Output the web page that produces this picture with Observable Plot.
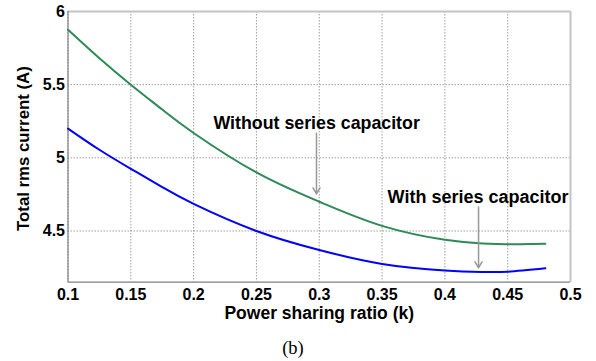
<!DOCTYPE html>
<html>
<head>
<meta charset="utf-8">
<script src="https://cdn.jsdelivr.net/npm/d3@7"></script>
<script src="https://cdn.jsdelivr.net/npm/@observablehq/plot@0.6"></script>
<style>
  body { margin: 0; background: #fff; position: relative; width: 596px; height: 361px; }
  #chart { width: 596px; }
  .cap { position: absolute; left: 0; top: 337px; width: 586px; text-align: center; font-family: "Liberation Serif", "Times New Roman", serif; font-size: 18.5px; line-height: 22px; }
  svg text { font-family: "Liberation Sans", Arial, sans-serif; }
</style>
</head>
<body>
<div id="chart"></div>
<script>
// Data
const k = [0.1, 0.125, 0.15, 0.175, 0.2, 0.25, 0.3, 0.35, 0.4, 0.43, 0.45, 0.48];
const withoutCap = [5.875, 5.68, 5.50, 5.33, 5.17, 4.90, 4.70, 4.535, 4.44, 4.415, 4.41, 4.413];
const withCap    = [5.20, 5.055, 4.925, 4.80, 4.685, 4.50, 4.37, 4.275, 4.23, 4.22, 4.222, 4.245];
const xTicks = [0.1, 0.15, 0.2, 0.25, 0.3, 0.35, 0.4, 0.45, 0.5];
const xTickLabels = ["0.1", "0.15", "0.2", "0.25", "0.3", "0.35", "0.4", "0.45", "0.5"];
const yTicks = [4.5, 5, 5.5, 6];
const yTickLabels = ["4.5", "5", "5.5", "6"];
const seriesNames = ["Without series capacitor", "With series capacitor"];
const xTitle = "Power sharing ratio (k)";
const yTitle = "Total rms current (A)";
const caption = "(b)";
// annotation anchors (data units)
const labelX = [0.2158, 0.3544];
const labelY = [5.237, 4.733];
const arrowX = [0.2978, 0.4268];
const arrowY1 = [5.168, 4.664];
const arrowY2 = [4.753, 4.248];
// y-title anchor (data units, left of the frame)
const yTitleX = 0.0645;
const yTitleY = 5.063;

const rows = [];
k.forEach((x, i) => rows.push({k: x, v: withoutCap[i], s: seriesNames[0]}));
k.forEach((x, i) => rows.push({k: x, v: withCap[i], s: seriesNames[1]}));
const ann = seriesNames.map((name, i) => ({name, lx: labelX[i], ly: labelY[i], ax: arrowX[i], y1: arrowY1[i], y2: arrowY2[i], fs: i === 0 ? 17.8 : 18}));

const plot = Plot.plot({
  width: 596,
  height: 325,
  marginLeft: 67.5,
  marginRight: 26,
  marginTop: 11,
  marginBottom: 43.3,
  style: {background: "#fff", overflow: "visible", fontSize: "16px", fontWeight: "bold", fontFamily: "Liberation Sans, Arial, sans-serif"},
  x: {domain: [0.1, 0.5], ticks: xTicks, tickFormat: (d) => xTickLabels[xTicks.indexOf(d)] ?? ""},
  y: {domain: [4.15, 6], ticks: yTicks, tickFormat: (d) => yTickLabels[yTicks.indexOf(d)] ?? ""},
  color: {domain: seriesNames, range: ["#2e8b57", "#0000ff"]},
  marks: [
    Plot.gridX(xTicks, {stroke: "#888", strokeOpacity: 1, strokeDasharray: "1.5,1.5", strokeWidth: 0.8}),
    Plot.gridY(yTicks, {stroke: "#888", strokeOpacity: 1, strokeDasharray: "1.5,1.5", strokeWidth: 0.8}),
    Plot.ruleY([6], {stroke: "#c4c4c4", strokeWidth: 2}),
    Plot.ruleX([0.5], {stroke: "#c4c4c4", strokeWidth: 2}),
    Plot.ruleX([0.1], {stroke: "#808080", strokeWidth: 1.2}),
    Plot.ruleY([4.15], {stroke: "#808080", strokeWidth: 1.2}),
    Plot.axisX({ticks: xTicks, tickFormat: (d) => xTickLabels[xTicks.indexOf(d)], tickSize: 0, tickPadding: 6, fill: "#000", label: null}),
    Plot.axisY({ticks: yTicks, tickFormat: (d) => yTickLabels[yTicks.indexOf(d)], tickSize: 0, tickPadding: 3, fill: "#000", label: null}),
    Plot.text([xTitle], {frameAnchor: "bottom", text: (d) => d, dy: 31, lineAnchor: "middle", fontSize: 17.5, fontWeight: "bold", fill: "#000"}),
    Plot.text([yTitle], {x: () => yTitleX, y: () => yTitleY, text: (d) => d, rotate: -90, lineAnchor: "middle", textAnchor: "middle", fontSize: 16.8, fontWeight: "bold", fill: "#000"}),
    Plot.line(rows, {x: "k", y: "v", z: "s", stroke: "s", strokeWidth: 2, curve: "natural"}),
    Plot.arrow(ann, {x: "ax", y1: "y1", y2: "y2", stroke: "#999", strokeWidth: 1.5, headLength: 7, bend: 0}),
    Plot.text(ann, {x: "lx", y: "ly", text: "name", textAnchor: "start", fontSize: (d) => d.fs, fontWeight: "bold", fill: "#000"})
  ]
});
document.getElementById("chart").appendChild(plot);
const cap = document.createElement("div");
cap.className = "cap";
cap.textContent = caption;
document.body.appendChild(cap);
</script>
</body>
</html>
